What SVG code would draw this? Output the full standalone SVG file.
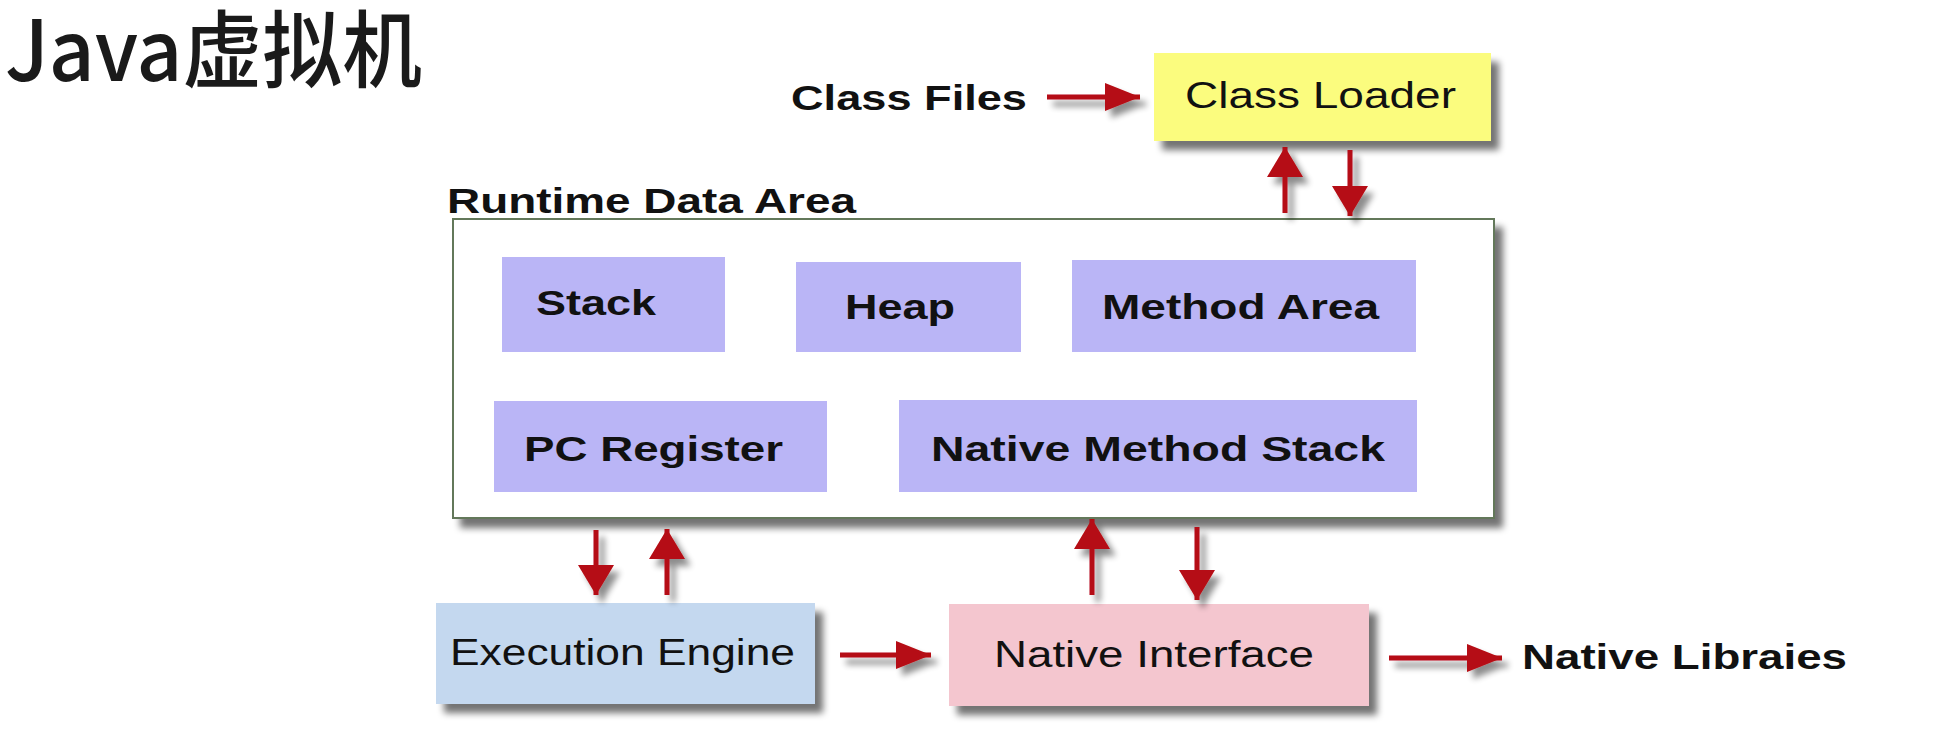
<svg xmlns="http://www.w3.org/2000/svg" width="1959" height="731" viewBox="0 0 1959 731">
<style>
  .bold { font-family: "Liberation Sans", Arial, sans-serif; font-weight: bold; font-size: 35px; fill: #111; }
  .reg { font-family: "Liberation Sans", Arial, sans-serif; font-size: 36px; fill: #111; }
  .title { font-family: "Noto Sans CJK SC", "Liberation Sans", sans-serif; font-size: 84px; font-weight: 500; fill: #1a1a1a; }
  .purple { fill: #bab5f6; }
  .arrow { fill: none; stroke: #b50a12; stroke-width: 5; }
</style>
<defs>
  <filter id="shadow" x="-10%" y="-10%" width="130%" height="140%">
    <feGaussianBlur in="SourceAlpha" stdDeviation="3.5"/>
    <feOffset dx="8" dy="9" result="b"/>
    <feComponentTransfer><feFuncA type="linear" slope="0.55"/></feComponentTransfer>
    <feMerge><feMergeNode/><feMergeNode in="SourceGraphic"/></feMerge>
  </filter>
  <filter id="ashadow" x="-50%" y="-50%" width="200%" height="200%">
    <feGaussianBlur in="SourceAlpha" stdDeviation="3"/>
    <feOffset dx="6" dy="7" result="b"/>
    <feComponentTransfer><feFuncA type="linear" slope="0.45"/></feComponentTransfer>
    <feMerge><feMergeNode/><feMergeNode in="SourceGraphic"/></feMerge>
  </filter>
  <marker id="headH" markerUnits="userSpaceOnUse" markerWidth="36" markerHeight="28" refX="35" refY="14" orient="auto" viewBox="0 0 36 28">
    <polygon points="0,0 35,14 0,28" fill="#b50a12"/>
  </marker>
  <marker id="headV" markerUnits="userSpaceOnUse" markerWidth="31" markerHeight="36" refX="30" refY="18" orient="auto" viewBox="0 0 31 36">
    <polygon points="0,0 30,18 0,36" fill="#b50a12"/>
  </marker>
</defs>

<rect width="1959" height="731" fill="#ffffff"/>

<g id="title">
  <text class="title" x="5" y="81" textLength="417" lengthAdjust="spacingAndGlyphs">Java虚拟机</text>
</g>

<g id="class-files">
  <text class="bold" x="791" y="110" textLength="236" lengthAdjust="spacingAndGlyphs">Class Files</text>
</g>

<g id="class-loader">
  <rect x="1154" y="53" width="337" height="88" fill="#fbfc7e" filter="url(#shadow)"/>
  <text class="reg" x="1185" y="108" textLength="271" lengthAdjust="spacingAndGlyphs">Class Loader</text>
</g>

<g id="runtime-data-area">
  <text class="bold" x="447" y="213" font-size="34" textLength="409" lengthAdjust="spacingAndGlyphs">Runtime Data Area</text>
  <rect x="453" y="219" width="1041" height="299" fill="#ffffff" stroke="#64785a" stroke-width="2" filter="url(#shadow)"/>
</g>

<g id="stack">
  <rect class="purple" x="502" y="257" width="223" height="95"/>
  <text class="bold" x="536" y="315" textLength="120" lengthAdjust="spacingAndGlyphs">Stack</text>
</g>

<g id="heap">
  <rect class="purple" x="796" y="262" width="225" height="90"/>
  <text class="bold" x="845" y="319" textLength="110" lengthAdjust="spacingAndGlyphs">Heap</text>
</g>

<g id="method-area">
  <rect class="purple" x="1072" y="260" width="344" height="92"/>
  <text class="bold" x="1102" y="319" textLength="277" lengthAdjust="spacingAndGlyphs">Method Area</text>
</g>

<g id="pc-register">
  <rect class="purple" x="494" y="401" width="333" height="91"/>
  <text class="bold" x="524" y="461" textLength="259" lengthAdjust="spacingAndGlyphs">PC Register</text>
</g>

<g id="native-method-stack">
  <rect class="purple" x="899" y="400" width="518" height="92"/>
  <text class="bold" x="931" y="461" textLength="454" lengthAdjust="spacingAndGlyphs">Native Method Stack</text>
</g>

<g id="execution-engine">
  <rect x="436" y="603" width="379" height="101" fill="#c4d8ef" filter="url(#shadow)"/>
  <text class="reg" x="450" y="665" textLength="345" lengthAdjust="spacingAndGlyphs">Execution Engine</text>
</g>

<g id="native-interface">
  <rect x="949" y="604" width="420" height="102" fill="#f4c6cf" filter="url(#shadow)"/>
  <text class="reg" x="994" y="667" textLength="320" lengthAdjust="spacingAndGlyphs">Native Interface</text>
</g>

<g id="native-libraries">
  <text class="bold" x="1522" y="669" textLength="325" lengthAdjust="spacingAndGlyphs">Native Libraies</text>
</g>

<g id="connectors" filter="url(#ashadow)">
  <path class="arrow" d="M1047,97 H1140" marker-end="url(#headH)"/>
  <path class="arrow" d="M1285,213 V147" marker-end="url(#headV)"/>
  <path class="arrow" d="M1350,150 V216" marker-end="url(#headV)"/>
  <path class="arrow" d="M596,530 V595" marker-end="url(#headV)"/>
  <path class="arrow" d="M667,595 V529" marker-end="url(#headV)"/>
  <path class="arrow" d="M1092,595 V519" marker-end="url(#headV)"/>
  <path class="arrow" d="M1197,527 V600" marker-end="url(#headV)"/>
  <path class="arrow" d="M840,655 H931" marker-end="url(#headH)"/>
  <path class="arrow" d="M1389,658 H1502" marker-end="url(#headH)"/>
</g>
</svg>
